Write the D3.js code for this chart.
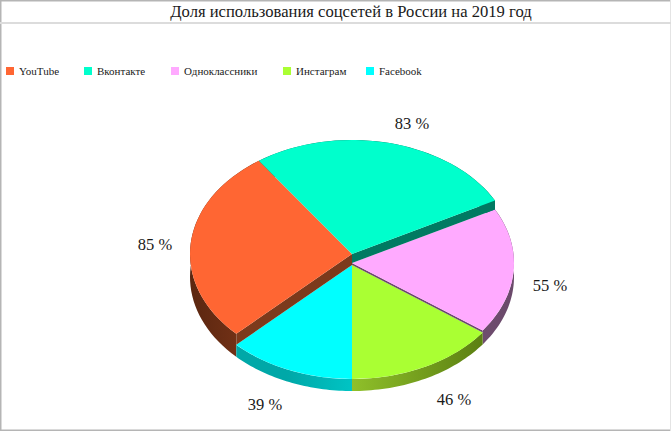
<!DOCTYPE html>
<html><head><meta charset="utf-8">
<script src="https://cdn.jsdelivr.net/npm/d3@7"></script>
<style>html,body{margin:0;padding:0;background:#fff}svg{display:block}text{font-family:"Liberation Serif",serif;fill:#1a1a1a}</style>
</head><body><svg id="c" width="671" height="431"></svg>
<script>
const titleText = "Доля использования соцсетей в России на 2019 год";
const categories = ["YouTube","Вконтакте","Одноклассники","Инстаграм","Facebook"];
const values = [85,83,55,46,39];
const topColors = ["#ff6633","#00ffcc","#ffaaff","#aaff33","#00ffff"];
const wallDark = ["#5a2610","#007a62","#6b4a6b","#5c8012","#00a8a8"];
const wallLight = ["#8a3c1c","#007a62","#8a5f8a","#8fc02a","#00c4c4"];

const W=671,H=431,cx=352,cy=265,rx=162,ry=114,baseY=277;
const lifts=[11,11,2,0,0];
const legendX=[6,84,171,283,366];
const labelPos=[[155,250],[412,129],[550,291],[454,405],[265,410]];

const svg=d3.select("#c");
svg.append("rect").attr("width",W).attr("height",H).attr("fill","#fff");
svg.append("rect").attr("x",0).attr("y",0).attr("width",W).attr("height",1.5).attr("fill","#b5b5b5");
svg.append("rect").attr("x",0).attr("y",0).attr("width",1.5).attr("height",H).attr("fill","#b5b5b5");
svg.append("rect").attr("x",0).attr("y",H-1.5).attr("width",W).attr("height",1.5).attr("fill","#b5b5b5");
svg.append("rect").attr("x",W-1).attr("y",0).attr("width",1).attr("height",H).attr("fill","#e4e4e4");
svg.append("rect").attr("x",0).attr("y",22).attr("width",W).attr("height",2).attr("fill","#dcdcdc");
svg.append("text").attr("x",351).attr("y",17).attr("text-anchor","middle").attr("font-size",16.6).text(titleText);

const legend=svg.append("g").selectAll("g").data(categories).join("g").attr("transform",(d,i)=>`translate(${legendX[i]},67)`);
legend.append("rect").attr("width",8).attr("height",8).attr("fill",(d,i)=>topColors[i]);
legend.append("text").attr("x",13).attr("y",8).attr("font-size",11).text(d=>d);

const a0=(180+39/308*360)*Math.PI/180;
const pieData=d3.pie().sort(null).startAngle(a0).endAngle(a0+2*Math.PI)(values);
const arc=d3.arc().innerRadius(0).outerRadius(rx);
const px=a=>cx+rx*Math.sin(a);
const py=(a,y0)=>y0-ry*Math.cos(a);
const line=d3.line();
const defs=svg.append("defs");

pieData.forEach((d,i)=>{
  const g=defs.append("linearGradient").attr("id","w"+i).attr("gradientUnits","userSpaceOnUse")
    .attr("x1",cx-rx).attr("x2",cx+rx).attr("y1",0).attr("y2",0);
  if(i===0){g.append("stop").attr("offset",0).attr("stop-color",wallDark[i]);g.append("stop").attr("offset",0.3).attr("stop-color",wallLight[i]);}
  else if(i===4){g.append("stop").attr("offset",0.3).attr("stop-color",wallDark[i]);g.append("stop").attr("offset",0.5).attr("stop-color",wallLight[i]);}
  else if(i===3){g.append("stop").attr("offset",0.5).attr("stop-color",wallLight[i]);g.append("stop").attr("offset",0.9).attr("stop-color",wallDark[i]);}
  else {g.append("stop").attr("offset",0).attr("stop-color",wallLight[i]);g.append("stop").attr("offset",1).attr("stop-color",wallDark[i]);}
});

// outer walls
const walls=svg.append("g");
pieData.forEach((d,i)=>{
  const top=d3.range(0,41).map(k=>{const a=d.startAngle+(d.endAngle-d.startAngle)*k/40;return [px(a),py(a,cy-lifts[i])];});
  const base=d3.range(40,-1,-1).map(k=>{const a=d.startAngle+(d.endAngle-d.startAngle)*k/40;return [px(a),py(a,baseY)];});
  walls.append("path").attr("d",line(top.concat(base))+"Z").attr("fill",`url(#w${i})`);
});

// faces drawn lowest first, with seam walls toward lower neighbours
const order=d3.range(5).sort((a,b)=>lifts[a]-lifts[b]);
const faces=svg.append("g");
order.forEach(i=>{
  const d=pieData[i],n=pieData.length,y0=cy-lifts[i];
  const seam=(angle,other)=>{
    const drop=lifts[i]-lifts[other];
    if(drop<=0) return;
    faces.append("path").attr("d",line([[cx,y0],[px(angle),py(angle,y0)],[px(angle),py(angle,y0+drop)],[cx,y0+drop]])+"Z").attr("fill",i===0?"#7c3a1c":wallDark[i]);
  };
  if(i===0) seam(d.startAngle,(i+n-1)%n);
  else seam(d.endAngle,(i+1)%n);
  faces.append("path").attr("d",arc(d)).attr("fill",topColors[i])
    .attr("transform",`translate(${cx},${y0}) scale(1,${ry/rx})`);
});

svg.append("g").selectAll("text").data(values).join("text")
  .attr("x",(d,i)=>labelPos[i][0]).attr("y",(d,i)=>labelPos[i][1]).attr("text-anchor","middle")
  .attr("font-size",16.5).text(d=>d+" %");
</script></body></html>
